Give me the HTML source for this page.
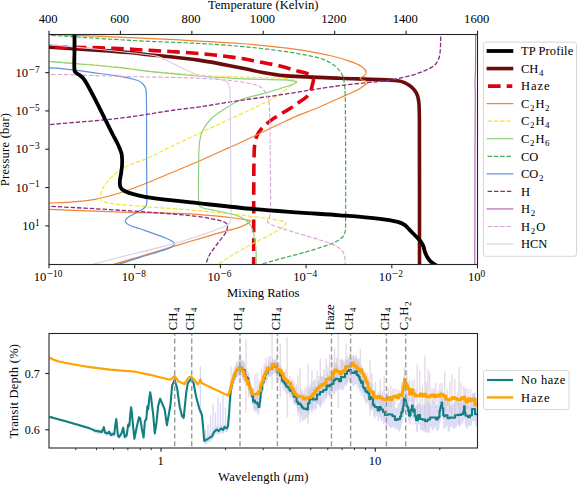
<!DOCTYPE html>
<html><head><meta charset="utf-8"><style>
html,body{margin:0;padding:0;background:#fff;}
svg{display:block;}
text{font-family:"Liberation Serif", serif;fill:#000;}
</style></head><body>
<svg width="578" height="485" viewBox="0 0 578 485">
<rect x="0" y="0" width="578" height="485" fill="#fff"/>

<defs><clipPath id="c1"><rect x="49.0" y="34.5" width="428.5" height="230.0"/></clipPath><clipPath id="c2"><rect x="49.0" y="333.5" width="428.5" height="114.5"/></clipPath></defs>
<g clip-path="url(#c1)" fill="none" stroke-linejoin="round">
<path d="M45.00,46.90 C46.33,46.97 47.67,47.02 49.00,47.10 C66.00,48.18 83.00,49.25 100.00,50.40 C109.67,51.05 119.34,51.70 129.00,52.50 C132.68,52.80 136.33,53.29 140.00,53.70 C160.00,55.93 180.08,57.61 200.00,60.40 C213.41,62.28 226.69,65.13 240.00,67.70 C247.23,69.10 254.36,70.98 261.60,72.30 C268.79,73.61 276.01,75.05 283.30,75.60 C302.15,77.02 321.10,77.42 340.00,78.20 C353.33,78.75 366.67,79.00 380.00,79.60 C385.91,79.87 391.85,80.12 397.70,80.80 C399.85,81.05 402.00,81.61 404.00,82.40 C405.94,83.17 407.80,84.28 409.50,85.50 C411.23,86.75 412.98,88.14 414.30,89.80 C415.61,91.44 416.71,93.41 417.40,95.40 C418.24,97.81 418.69,100.43 418.90,103.00 C419.36,108.63 419.38,114.33 419.40,120.00 C419.58,170.00 419.47,220.00 419.50,270.00" stroke="#6a0d0a" stroke-width="3.6"/>
<path d="M45.00,46.70 C46.33,46.73 47.67,46.77 49.00,46.80 C66.00,47.14 83.00,47.33 100.00,47.80 C109.67,48.07 119.34,48.52 129.00,49.00 C132.67,49.18 136.33,49.58 140.00,49.80 C150.00,50.41 160.00,50.87 170.00,51.50 C180.00,52.13 190.02,52.65 200.00,53.60 C213.36,54.88 226.71,56.37 240.00,58.20 C245.81,59.00 251.54,60.38 257.30,61.50 C264.54,62.91 271.83,64.11 279.00,65.80 C285.53,67.34 291.95,69.35 298.40,71.20 C302.05,72.25 306.05,72.80 309.30,74.50 C311.02,75.40 312.73,77.27 313.30,79.00 C313.80,80.51 312.84,82.48 312.50,84.20 C312.18,85.82 311.81,87.43 311.30,89.00 C310.81,90.53 310.35,92.15 309.50,93.50 C308.58,94.95 307.34,96.29 306.00,97.40 C303.51,99.46 300.68,101.15 298.00,103.00 C295.18,104.95 292.38,106.94 289.50,108.80 C286.71,110.60 283.83,112.27 281.00,114.00 C278.33,115.63 275.54,117.09 273.00,118.90 C270.14,120.93 267.32,123.08 264.80,125.50 C262.46,127.75 260.08,130.16 258.40,132.90 C256.91,135.33 255.92,138.20 255.30,141.00 C254.52,144.57 254.34,148.32 254.20,152.00 C253.84,161.32 253.86,170.67 253.80,180.00 C253.69,196.67 253.72,213.33 253.70,230.00 C253.69,243.33 253.70,256.67 253.70,270.00" stroke="#e0000e" stroke-width="3.6" stroke-dasharray="12.6,6.1" stroke-dashoffset="8.6"/>
<path d="M45.00,34.20 C46.33,34.27 47.67,34.35 49.00,34.40 C57.67,34.72 66.33,34.96 75.00,35.30 C93.33,36.02 111.67,36.79 130.00,37.60 C144.87,38.26 159.74,38.90 174.60,39.70 C196.41,40.87 218.22,41.93 240.00,43.50 C253.36,44.46 266.69,45.83 280.00,47.30 C288.69,48.26 297.38,49.36 306.00,50.80 C314.68,52.26 323.34,53.96 331.90,56.00 C337.74,57.39 343.54,59.12 349.20,61.10 C353.34,62.55 357.69,63.99 361.30,66.30 C363.36,67.62 365.64,69.99 366.20,72.00 C366.54,73.22 365.03,74.97 364.00,76.00 C362.97,77.03 360.42,77.36 360.00,78.20 C359.75,78.69 361.20,79.64 362.00,80.00 C363.93,80.87 367.61,80.91 368.20,81.90 C368.61,82.58 366.18,84.11 365.00,85.00 C362.75,86.71 360.40,88.37 357.90,89.70 C353.73,91.91 349.31,93.67 345.00,95.60 C340.01,97.83 335.00,99.99 330.00,102.20 C324.30,104.72 318.66,107.42 312.90,109.80 C308.66,111.55 304.22,112.80 300.00,114.60 C293.25,117.47 286.65,120.69 280.00,123.80 C266.65,130.05 253.37,136.48 240.00,142.70 C234.60,145.21 229.13,147.56 223.70,150.00 C215.80,153.56 207.96,157.27 200.00,160.70 C183.39,167.87 166.71,174.88 150.00,181.80 C144.48,184.08 138.91,186.25 133.30,188.30 C128.51,190.05 123.67,191.70 118.80,193.20 C114.24,194.60 109.62,195.80 105.00,197.00 C101.68,197.86 98.36,198.74 95.00,199.40 C91.69,200.04 88.35,200.54 85.00,200.90 C80.02,201.44 75.01,201.79 70.00,202.10 C63.01,202.53 56.00,202.76 49.00,203.10 C47.67,203.16 46.33,203.23 45.00,203.30" stroke="#f08533" stroke-width="1.2"/>
<path d="M45.00,209.10 C46.33,209.17 47.67,209.25 49.00,209.30 C76.00,210.35 102.99,211.54 130.00,212.40 C149.99,213.04 170.03,212.78 190.00,213.80 C203.37,214.48 216.69,216.03 230.00,217.50 C236.36,218.20 242.79,219.09 249.00,220.30 C249.62,220.42 250.76,221.13 250.50,221.50 C249.76,222.53 247.58,223.66 246.00,224.50 C244.08,225.52 242.08,226.46 240.00,227.10 C229.81,230.23 219.44,232.82 209.20,235.80 C197.64,239.16 186.13,242.65 174.60,246.10 C163.06,249.55 151.54,253.05 140.00,256.50 C131.01,259.19 122.02,261.92 113.00,264.50 C110.36,265.26 107.67,265.83 105.00,266.50" stroke="#f08533" stroke-width="1.2"/>
<path d="M45.00,61.00 C46.33,61.10 47.67,61.19 49.00,61.30 C52.67,61.59 56.33,61.89 60.00,62.20 C80.00,63.89 100.03,65.30 120.00,67.30 C129.60,68.26 139.10,70.14 148.70,71.10 C165.77,72.81 182.88,74.19 200.00,75.30 C213.32,76.16 226.66,76.52 240.00,77.00 C250.00,77.36 260.01,77.40 270.00,77.80 C276.67,78.07 283.45,78.08 290.00,79.00 C292.22,79.31 295.93,80.40 296.30,81.50 C296.60,82.40 293.48,83.89 292.00,85.00 C286.98,88.76 282.11,92.78 276.80,96.10 C271.44,99.45 265.67,102.17 260.00,105.00 C253.40,108.30 246.69,111.38 240.00,114.50 C231.69,118.38 223.32,122.14 215.00,126.00 C206.65,129.87 198.33,133.78 190.00,137.70 C181.33,141.78 172.61,145.78 164.00,150.00 C159.27,152.32 154.81,155.19 150.00,157.30 C142.65,160.52 134.75,162.61 127.50,166.00 C123.42,167.91 119.51,170.39 116.00,173.20 C112.31,176.16 108.73,179.54 105.90,183.30 C103.66,186.28 101.69,189.88 100.80,193.40 C100.23,195.65 100.03,199.23 101.50,200.60 C103.63,202.59 108.15,202.96 111.60,203.50 C118.75,204.62 126.06,204.92 133.30,205.60 C138.86,206.12 144.43,206.68 150.00,207.10 C163.33,208.11 176.69,208.73 190.00,209.90 C206.69,211.36 223.36,213.11 240.00,215.00 C250.02,216.14 260.07,217.29 270.00,219.00 C275.40,219.93 285.11,220.58 286.00,222.90 C286.77,224.91 279.04,229.52 275.00,232.00 C267.04,236.89 258.25,240.51 250.00,245.00 C243.25,248.68 236.58,252.53 230.00,256.50 C226.08,258.86 222.21,261.34 218.50,264.00 C216.87,265.17 215.50,266.67 214.00,268.00" stroke="#f5e43a" stroke-width="1.2" stroke-dasharray="4.4,1.9"/>
<path d="M45.00,61.30 C46.33,61.37 47.67,61.40 49.00,61.50 C52.67,61.77 56.33,62.09 60.00,62.40 C80.00,64.12 100.03,65.63 120.00,67.60 C126.69,68.26 133.31,69.57 140.00,70.30 C157.28,72.20 174.58,74.06 191.90,75.50 C207.91,76.83 223.95,77.83 240.00,78.60 C254.42,79.29 268.88,79.30 283.30,79.90 C286.54,80.03 289.82,80.28 293.00,80.80 C294.28,81.01 296.84,81.57 296.70,82.10 C296.51,82.81 293.63,83.84 292.00,84.50 C289.16,85.64 286.22,86.56 283.30,87.50 C277.55,89.36 271.80,91.20 266.00,92.90 C257.36,95.43 248.30,96.90 240.00,100.20 C233.97,102.60 228.45,106.40 223.00,110.00 C218.45,113.00 213.72,116.10 210.00,120.00 C206.72,123.43 203.86,127.66 202.00,132.00 C200.29,135.99 199.69,140.61 199.30,145.00 C198.56,153.27 198.72,161.66 198.60,170.00 C198.45,180.00 198.39,190.01 198.50,200.00 C198.52,201.84 198.19,204.06 199.00,205.50 C199.69,206.73 201.52,207.54 203.00,208.00 C206.85,209.20 211.01,209.63 215.00,210.50 C221.68,211.96 228.49,213.05 235.00,215.00 C238.49,216.05 242.05,217.47 245.00,219.50 C247.38,221.14 249.69,223.44 251.00,226.00 C252.85,229.61 253.65,233.93 254.50,238.00 C255.32,241.93 255.77,245.98 256.00,250.00 C256.34,255.98 256.13,262.00 256.20,268.00" stroke="#8ccf7e" stroke-width="1.2"/>
<path d="M45.00,35.00 C46.33,35.07 47.67,35.12 49.00,35.20 C79.33,37.08 109.65,39.23 140.00,40.90 C159.99,42.00 180.01,42.42 200.00,43.50 C213.35,44.22 226.69,45.09 240.00,46.30 C253.36,47.52 266.70,49.03 280.00,50.80 C288.70,51.96 297.39,53.39 306.00,55.10 C311.82,56.26 317.80,57.30 323.30,59.40 C327.60,61.04 331.88,63.41 335.40,66.30 C338.21,68.61 340.63,71.79 342.30,75.00 C343.63,77.56 343.98,80.69 344.40,83.60 C344.94,87.36 345.13,91.19 345.20,95.00 C345.53,113.33 345.54,131.67 345.60,150.00 C345.68,175.33 345.75,200.67 345.60,226.00 C345.59,228.01 345.57,230.08 345.10,232.00 C344.71,233.58 344.03,235.26 343.00,236.50 C341.67,238.10 339.80,239.38 338.00,240.50 C335.84,241.85 333.51,243.03 331.10,243.90 C323.14,246.77 315.03,249.31 306.90,251.70 C298.33,254.21 289.62,256.25 281.00,258.60 C275.79,260.02 270.60,261.52 265.40,263.00 C261.93,263.99 258.47,265.00 255.00,266.00" stroke="#3eab52" stroke-width="1.2" stroke-dasharray="4.4,1.9"/>
<path d="M45.00,67.80 C50.00,68.00 55.03,67.88 60.00,68.40 C73.36,69.78 86.68,71.72 100.00,73.50 C106.68,74.39 113.38,75.17 120.00,76.40 C125.98,77.51 132.05,78.69 137.80,80.50 C139.55,81.05 141.20,82.23 142.50,83.50 C143.76,84.73 144.94,86.34 145.50,88.00 C146.24,90.17 146.36,92.65 146.40,95.00 C146.72,113.32 146.53,131.67 146.60,150.00 C146.66,166.67 146.83,183.34 146.80,200.00 C146.80,201.67 147.11,203.54 146.50,205.00 C145.85,206.54 144.44,208.01 143.00,209.00 C139.61,211.34 135.59,212.87 132.00,215.00 C130.09,216.14 127.92,217.24 126.50,218.80 C125.79,219.57 125.17,221.17 125.60,222.00 C126.33,223.40 128.33,224.71 130.00,225.50 C133.13,226.98 136.69,227.63 140.00,228.80 C148.69,231.87 157.43,234.85 166.00,238.20 C168.26,239.08 170.49,240.19 172.50,241.50 C173.36,242.06 174.68,243.04 174.60,243.80 C174.51,244.71 173.03,245.83 172.00,246.50 C170.17,247.69 168.10,248.69 166.00,249.40 C157.43,252.32 148.65,254.67 140.00,257.40 C133.11,259.57 126.28,261.90 119.40,264.10 C116.28,265.10 113.13,266.03 110.00,267.00" stroke="#5e94d6" stroke-width="1.2"/>
<path d="M440.70,30.00 C440.70,33.33 440.76,36.67 440.70,40.00 C440.66,42.67 440.54,45.34 440.40,48.00 C440.31,49.67 440.23,51.35 440.00,53.00 C439.76,54.68 439.65,56.45 439.00,58.00 C437.98,60.42 436.90,63.17 435.00,64.90 C432.37,67.30 428.76,68.91 425.40,70.40 C420.93,72.38 416.22,73.98 411.50,75.30 C404.69,77.21 397.77,78.91 390.80,80.10 C383.94,81.27 376.94,81.65 370.00,82.40 C360.00,83.48 349.96,84.22 340.00,85.60 C319.96,88.38 300.02,91.92 280.00,94.90 C266.68,96.88 253.32,98.52 240.00,100.50 C226.65,102.49 213.36,104.86 200.00,106.80 C191.56,108.03 183.05,108.80 174.60,110.00 C156.38,112.60 138.27,116.02 120.00,118.20 C100.07,120.58 80.00,121.89 60.00,123.70 C55.00,124.15 50.00,124.57 45.00,125.00" stroke="#8b2a7e" stroke-width="1.3" stroke-dasharray="4.5,1.9"/>
<path d="M45.00,206.00 C46.33,206.07 47.67,206.12 49.00,206.20 C76.00,207.76 103.02,209.10 130.00,210.90 C150.02,212.23 170.05,213.58 190.00,215.60 C198.39,216.45 206.81,217.64 215.00,219.50 C219.15,220.44 224.75,221.44 227.00,224.00 C228.42,225.61 227.12,229.64 226.00,232.00 C224.12,235.98 220.67,239.33 218.00,243.00 C215.33,246.67 212.25,250.10 210.00,254.00 C208.12,257.27 207.09,261.01 205.60,264.50 C205.09,265.68 204.53,266.83 204.00,268.00" stroke="#8b2a7e" stroke-width="1.3" stroke-dasharray="4.5,1.9"/>
<path d="M475.60,30.00 C475.57,43.33 475.65,56.67 475.50,70.00 C475.45,74.00 475.03,78.00 475.00,82.00 C474.97,86.33 475.30,90.67 475.30,95.00 C475.30,113.33 475.05,131.67 475.00,150.00 C474.89,190.00 474.87,230.00 474.80,270.00" stroke="#b26bb5" stroke-width="1.2"/>
<path d="M45.00,74.80 C50.00,74.70 55.00,74.39 60.00,74.50 C80.00,74.93 100.00,75.86 120.00,76.40 C146.66,77.12 173.36,77.10 200.00,78.30 C213.36,78.90 226.77,80.00 240.00,81.80 C246.60,82.70 253.67,83.72 259.50,86.40 C262.51,87.78 264.96,91.04 266.50,94.00 C268.19,97.24 268.95,101.25 269.20,105.00 C270.19,119.91 270.02,135.00 270.20,150.00 C270.45,170.66 270.71,191.36 270.50,212.00 C270.48,213.86 270.05,215.74 269.50,217.50 C269.05,218.94 266.87,220.63 267.50,221.60 C268.70,223.46 272.30,224.97 275.00,226.00 C283.14,229.10 291.64,231.41 300.00,234.00 C308.31,236.58 316.77,238.72 325.00,241.50 C329.10,242.89 333.46,244.17 337.00,246.50 C339.79,248.34 342.74,251.01 344.00,254.00 C345.48,257.51 344.80,262.00 345.20,266.00" stroke="#d7a6d6" stroke-width="1.1" stroke-dasharray="4.4,1.9"/>
<path d="M45.00,43.50 C46.33,43.80 47.64,44.25 49.00,44.40 C65.98,46.25 83.01,47.74 100.00,49.50 C113.34,50.88 126.69,52.20 140.00,53.80 C145.79,54.50 151.77,54.74 157.30,56.40 C163.30,58.20 168.88,61.50 174.60,64.20 C179.25,66.40 183.69,69.04 188.40,71.10 C192.93,73.08 197.54,75.04 202.30,76.30 C207.37,77.64 212.76,77.79 217.90,78.90 C220.82,79.53 224.19,79.94 226.50,81.50 C228.03,82.54 228.89,84.83 229.40,86.70 C230.12,89.33 230.15,92.22 230.20,95.00 C230.55,113.32 230.47,131.67 230.60,150.00 C230.74,170.00 230.82,190.00 231.00,210.00 C231.02,212.17 231.30,214.34 231.20,216.50 C231.13,218.01 231.09,219.65 230.50,221.00 C229.85,222.48 228.87,224.15 227.50,225.00 C224.70,226.75 221.17,227.54 218.00,228.80 C215.07,229.97 212.19,231.29 209.20,232.30 C197.72,236.19 186.24,240.15 174.60,243.50 C163.18,246.78 151.53,249.30 140.00,252.20 C131.67,254.30 123.32,256.37 115.00,258.50 C107.32,260.47 99.66,262.46 92.00,264.50 C89.66,265.13 87.33,265.83 85.00,266.50" stroke="#d9cdea" stroke-width="1.1"/>
<path d="M74.50,30.00 C74.50,36.67 74.50,43.33 74.50,50.00 C74.50,56.83 73.93,63.86 74.50,70.50 C74.59,71.59 75.70,72.44 76.50,73.20 C77.20,73.87 78.21,74.21 79.00,74.80 C80.44,75.88 82.08,76.82 83.20,78.20 C85.04,80.46 86.46,83.12 87.90,85.70 C91.13,91.49 94.18,97.39 97.20,103.30 C100.35,109.46 103.31,115.71 106.40,121.90 C108.58,126.28 110.76,130.65 113.00,135.00 C114.13,137.19 115.40,139.30 116.50,141.50 C117.57,143.63 118.61,145.79 119.50,148.00 C120.34,150.09 121.35,152.19 121.70,154.40 C122.22,157.69 122.21,161.14 122.10,164.50 C122.01,167.41 121.48,170.31 121.10,173.20 C120.72,176.07 119.90,178.93 119.80,181.80 C119.73,183.67 119.78,185.83 120.60,187.40 C121.38,188.90 123.04,190.18 124.60,191.00 C127.27,192.41 130.33,193.32 133.30,194.10 C138.80,195.55 144.37,196.91 150.00,197.70 C166.60,200.01 183.33,201.57 200.00,203.40 C218.33,205.41 236.64,207.51 255.00,209.20 C269.98,210.58 285.00,211.52 300.00,212.60 C313.33,213.56 326.68,214.27 340.00,215.30 C353.34,216.33 366.71,217.28 380.00,218.80 C385.95,219.48 391.92,220.47 397.70,221.90 C400.12,222.50 402.57,223.51 404.60,224.90 C406.70,226.34 408.27,228.56 410.10,230.40 C412.41,232.73 414.71,235.06 417.00,237.40 C418.17,238.59 419.52,239.66 420.50,241.00 C421.62,242.53 422.58,244.24 423.30,246.00 C424.08,247.91 424.31,250.05 425.00,252.00 C425.61,253.71 426.31,255.43 427.20,257.00 C427.97,258.36 428.91,259.68 430.00,260.80 C431.08,261.91 432.43,262.79 433.70,263.70 C435.09,264.69 436.57,265.57 438.00,266.50" stroke="#000000" stroke-width="3.8"/>
</g>
<rect x="49.0" y="34.5" width="428.5" height="230.0" fill="none" stroke="#262626" stroke-width="1.1"/>
<line x1="49.00" y1="264.5" x2="49.00" y2="268.3" stroke="#262626" stroke-width="1.1"/>
<text x="48.10" y="280.8" font-size="12.6" text-anchor="middle">10<tspan dy="-4.1" font-size="9.4"><tspan font-size="11.2" dx="0.3">−</tspan><tspan dx="0.2">10</tspan></tspan></text>
<line x1="134.70" y1="264.5" x2="134.70" y2="268.3" stroke="#262626" stroke-width="1.1"/>
<text x="133.80" y="280.8" font-size="12.6" text-anchor="middle">10<tspan dy="-4.1" font-size="9.4"><tspan font-size="11.2" dx="0.3">−</tspan><tspan dx="0.2">8</tspan></tspan></text>
<line x1="220.40" y1="264.5" x2="220.40" y2="268.3" stroke="#262626" stroke-width="1.1"/>
<text x="219.50" y="280.8" font-size="12.6" text-anchor="middle">10<tspan dy="-4.1" font-size="9.4"><tspan font-size="11.2" dx="0.3">−</tspan><tspan dx="0.2">6</tspan></tspan></text>
<line x1="306.10" y1="264.5" x2="306.10" y2="268.3" stroke="#262626" stroke-width="1.1"/>
<text x="305.20" y="280.8" font-size="12.6" text-anchor="middle">10<tspan dy="-4.1" font-size="9.4"><tspan font-size="11.2" dx="0.3">−</tspan><tspan dx="0.2">4</tspan></tspan></text>
<line x1="391.80" y1="264.5" x2="391.80" y2="268.3" stroke="#262626" stroke-width="1.1"/>
<text x="390.90" y="280.8" font-size="12.6" text-anchor="middle">10<tspan dy="-4.1" font-size="9.4"><tspan font-size="11.2" dx="0.3">−</tspan><tspan dx="0.2">2</tspan></tspan></text>
<line x1="477.50" y1="264.5" x2="477.50" y2="268.3" stroke="#262626" stroke-width="1.1"/>
<text x="476.60" y="280.8" font-size="12.6" text-anchor="middle">10<tspan dy="-4.1" font-size="9.4">0</tspan></text>
<line x1="49.00" y1="34.5" x2="49.00" y2="30.7" stroke="#262626" stroke-width="1.1"/>
<text x="49.00" y="22.8" font-size="12.6" text-anchor="middle" dx="-0.8">400</text>
<line x1="120.42" y1="34.5" x2="120.42" y2="30.7" stroke="#262626" stroke-width="1.1"/>
<text x="120.42" y="22.8" font-size="12.6" text-anchor="middle" dx="-0.8">600</text>
<line x1="191.83" y1="34.5" x2="191.83" y2="30.7" stroke="#262626" stroke-width="1.1"/>
<text x="191.83" y="22.8" font-size="12.6" text-anchor="middle" dx="-0.8">800</text>
<line x1="263.25" y1="34.5" x2="263.25" y2="30.7" stroke="#262626" stroke-width="1.1"/>
<text x="263.25" y="22.8" font-size="12.6" text-anchor="middle" dx="-0.8">1000</text>
<line x1="334.67" y1="34.5" x2="334.67" y2="30.7" stroke="#262626" stroke-width="1.1"/>
<text x="334.67" y="22.8" font-size="12.6" text-anchor="middle" dx="-0.8">1200</text>
<line x1="406.08" y1="34.5" x2="406.08" y2="30.7" stroke="#262626" stroke-width="1.1"/>
<text x="406.08" y="22.8" font-size="12.6" text-anchor="middle" dx="-0.8">1400</text>
<line x1="477.50" y1="34.5" x2="477.50" y2="30.7" stroke="#262626" stroke-width="1.1"/>
<text x="477.50" y="22.8" font-size="12.6" text-anchor="middle" dx="-0.8">1600</text>
<line x1="49.0" y1="72.62" x2="45.2" y2="72.62" stroke="#262626" stroke-width="1.1"/>
<text x="39.60" y="76.62" font-size="12.6" text-anchor="end">10<tspan dy="-4.1" font-size="9.4"><tspan font-size="11.2" dx="0.3">−</tspan><tspan dx="0.2">7</tspan></tspan></text>
<line x1="49.0" y1="110.93" x2="45.2" y2="110.93" stroke="#262626" stroke-width="1.1"/>
<text x="39.60" y="114.93" font-size="12.6" text-anchor="end">10<tspan dy="-4.1" font-size="9.4"><tspan font-size="11.2" dx="0.3">−</tspan><tspan dx="0.2">5</tspan></tspan></text>
<line x1="49.0" y1="149.25" x2="45.2" y2="149.25" stroke="#262626" stroke-width="1.1"/>
<text x="39.60" y="153.25" font-size="12.6" text-anchor="end">10<tspan dy="-4.1" font-size="9.4"><tspan font-size="11.2" dx="0.3">−</tspan><tspan dx="0.2">3</tspan></tspan></text>
<line x1="49.0" y1="187.57" x2="45.2" y2="187.57" stroke="#262626" stroke-width="1.1"/>
<text x="39.60" y="191.57" font-size="12.6" text-anchor="end">10<tspan dy="-4.1" font-size="9.4"><tspan font-size="11.2" dx="0.3">−</tspan><tspan dx="0.2">1</tspan></tspan></text>
<line x1="49.0" y1="225.88" x2="45.2" y2="225.88" stroke="#262626" stroke-width="1.1"/>
<text x="39.60" y="229.88" font-size="12.6" text-anchor="end">10<tspan dy="-4.1" font-size="9.4">1</tspan></text>
<text x="263.3" y="9" font-size="12.6" text-anchor="middle" textLength="110.5">Temperature (Kelvin)</text>
<text x="263.2" y="296.7" font-size="12.6" text-anchor="middle" textLength="72.3">Mixing Ratios</text>
<text transform="translate(9.2,149.6) rotate(-90)" font-size="12.5" text-anchor="middle" textLength="73.2">Pressure (bar)</text>
<rect x="483.4" y="42.1" width="93.20000000000005" height="214.20000000000002" rx="2.5" fill="#fff" fill-opacity="0.8" stroke="#d6d6d6" stroke-width="1"/>
<line x1="486.6" y1="51.00" x2="513.3" y2="51.00" stroke="#000000" stroke-width="3.8"/>
<text x="521" y="55.20" font-size="12.5" textLength="52.2" >TP Profile</text>
<line x1="486.6" y1="68.55" x2="513.3" y2="68.55" stroke="#6a0d0a" stroke-width="3.6"/>
<text x="521" y="72.75" font-size="12.5" >CH<tspan font-size="9" dy="2.8" dx="0.6">4</tspan></text>
<line x1="488.0" y1="86.10" x2="512.3" y2="86.10" stroke="#e0000e" stroke-width="3.6" stroke-dasharray="12.6,6.1"/>
<text x="521" y="90.30" font-size="12.5" textLength="28.6" >Haze</text>
<line x1="486.6" y1="103.65" x2="513.3" y2="103.65" stroke="#f08533" stroke-width="1.2"/>
<text x="521" y="107.85" font-size="12.5" >C<tspan font-size="9" dy="2.8" dx="0.6">2</tspan><tspan dy="-2.8" dx="1.0">H</tspan><tspan font-size="9" dy="2.8" dx="0.6">2</tspan></text>
<line x1="487.6" y1="121.20" x2="512.3" y2="121.20" stroke="#f5e43a" stroke-width="1.2" stroke-dasharray="4.4,1.9"/>
<text x="521" y="125.40" font-size="12.5" >C<tspan font-size="9" dy="2.8" dx="0.6">2</tspan><tspan dy="-2.8" dx="1.0">H</tspan><tspan font-size="9" dy="2.8" dx="0.6">4</tspan></text>
<line x1="486.6" y1="138.75" x2="513.3" y2="138.75" stroke="#8ccf7e" stroke-width="1.2"/>
<text x="521" y="142.95" font-size="12.5" >C<tspan font-size="9" dy="2.8" dx="0.6">2</tspan><tspan dy="-2.8" dx="1.0">H</tspan><tspan font-size="9" dy="2.8" dx="0.6">6</tspan></text>
<line x1="487.6" y1="156.30" x2="512.3" y2="156.30" stroke="#3eab52" stroke-width="1.2" stroke-dasharray="4.4,1.9"/>
<text x="521" y="160.50" font-size="12.5" >CO</text>
<line x1="486.6" y1="173.85" x2="513.3" y2="173.85" stroke="#5e94d6" stroke-width="1.2"/>
<text x="521" y="178.05" font-size="12.5" >CO<tspan font-size="9" dy="2.8" dx="0.6">2</tspan></text>
<line x1="487.6" y1="191.40" x2="512.3" y2="191.40" stroke="#8b2a7e" stroke-width="1.3" stroke-dasharray="4.5,1.9"/>
<text x="521" y="195.60" font-size="12.5" >H</text>
<line x1="486.6" y1="208.95" x2="513.3" y2="208.95" stroke="#b26bb5" stroke-width="1.2"/>
<text x="521" y="213.15" font-size="12.5" >H<tspan font-size="9" dy="2.8" dx="0.6">2</tspan></text>
<line x1="487.6" y1="226.50" x2="512.3" y2="226.50" stroke="#d7a6d6" stroke-width="1.1" stroke-dasharray="4.4,1.9"/>
<text x="521" y="230.70" font-size="12.5" >H<tspan font-size="9" dy="2.8" dx="0.6">2</tspan><tspan dy="-2.8" dx="1.0">O</tspan></text>
<line x1="486.6" y1="244.05" x2="513.3" y2="244.05" stroke="#d9cdea" stroke-width="1.1"/>
<text x="521" y="248.25" font-size="12.5" >HCN</text>
<g clip-path="url(#c2)" fill="none" stroke-linejoin="round">
<path d="M49.50,415.60 L51.55,416.17 L53.60,416.74 L55.65,417.31 L57.70,417.88 L59.75,418.45 L61.80,419.02 L63.85,419.59 L65.90,420.16 L67.95,420.73 L70.00,421.30 L72.00,421.89 L74.00,422.48 L76.00,423.07 L78.00,423.66 L80.00,424.25 L82.00,424.84 L84.00,425.43 L86.00,426.02 L88.00,426.61 L90.00,427.20 L92.50,428.40 L95.00,428.30 L98.70,428.90 L101.80,429.50 L102.85,427.05 L103.90,424.60 L104.40,427.35 L104.90,430.10 L107.40,431.00 L109.20,429.30 L110.80,432.60 L112.30,431.40 L114.20,432.00 L114.47,429.62 L114.75,427.25 L115.03,424.88 L115.30,422.50 L115.63,420.50 L115.97,418.50 L116.30,416.50 L116.53,418.75 L116.75,421.00 L116.97,423.25 L117.20,425.50 L117.43,428.07 L117.67,430.63 L117.90,433.20 L119.10,434.50 L120.35,432.65 L121.60,430.80 L122.40,428.00 L123.20,425.20 L123.58,427.52 L123.95,429.85 L124.33,432.18 L124.70,434.50 L126.60,433.20 L126.92,430.98 L127.24,428.76 L127.56,426.54 L127.88,424.32 L128.20,422.10 L129.40,423.30 L129.58,420.94 L129.76,418.58 L129.94,416.22 L130.12,413.86 L130.30,411.50 L130.57,409.27 L130.83,407.03 L131.10,404.80 L131.50,407.65 L131.90,410.50 L132.10,412.77 L132.30,415.05 L132.50,417.33 L132.70,419.60 L132.91,421.69 L133.12,423.78 L133.34,425.86 L133.55,427.95 L133.76,430.04 L133.97,432.12 L134.19,434.21 L134.40,436.30 L134.82,434.20 L135.24,432.10 L135.66,430.00 L136.08,427.90 L136.50,425.80 L136.98,423.62 L137.46,421.44 L137.94,419.26 L138.42,417.08 L138.90,414.90 L140.20,415.90 L140.56,418.14 L140.92,420.38 L141.28,422.62 L141.64,424.86 L142.00,427.10 L142.40,429.08 L142.80,431.05 L143.20,433.02 L143.60,435.00 L143.76,432.94 L143.93,430.88 L144.09,428.81 L144.25,426.75 L144.41,424.69 L144.57,422.62 L144.74,420.56 L144.90,418.50 L146.30,416.90 L146.48,414.70 L146.67,412.50 L146.85,410.30 L147.03,408.10 L147.22,405.90 L147.40,403.70 L148.20,407.00 L148.42,404.70 L148.64,402.40 L148.86,400.10 L149.08,397.80 L149.30,395.50 L149.75,392.60 L150.20,389.70 L150.70,392.60 L151.20,395.50 L151.43,397.70 L151.67,399.90 L151.90,402.10 L152.22,404.55 L152.55,407.00 L152.88,409.45 L153.20,411.90 L153.38,414.01 L153.56,416.12 L153.73,418.23 L153.91,420.34 L154.09,422.46 L154.27,424.57 L154.44,426.68 L154.62,428.79 L154.80,430.90 L155.14,428.76 L155.48,426.62 L155.82,424.48 L156.16,422.34 L156.50,420.20 L156.70,418.14 L156.90,416.07 L157.10,414.01 L157.30,411.95 L157.50,409.89 L157.70,407.82 L157.90,405.76 L158.10,403.70 L158.77,401.23 L159.43,398.77 L160.10,396.30 L161.20,398.75 L162.30,401.20 L163.10,403.13 L163.90,405.07 L164.70,407.00 L165.01,409.24 L165.33,411.49 L165.64,413.73 L165.96,415.97 L166.27,418.21 L166.59,420.46 L166.90,422.70 L167.28,420.54 L167.66,418.38 L168.04,416.22 L168.42,414.06 L168.80,411.90 L169.23,409.45 L169.65,407.00 L170.07,404.55 L170.50,402.10 L170.68,399.99 L170.86,397.88 L171.03,395.77 L171.21,393.66 L171.39,391.54 L171.57,389.43 L171.74,387.32 L171.92,385.21 L172.10,383.10 L172.93,381.17 L173.77,379.23 L174.60,377.30 L175.22,379.38 L175.85,381.45 L176.47,383.53 L177.10,385.60 L177.38,387.61 L177.66,389.62 L177.93,391.63 L178.21,393.64 L178.49,395.66 L178.77,397.67 L179.04,399.68 L179.32,401.69 L179.60,403.70 L180.08,405.68 L180.56,407.66 L181.04,409.64 L181.52,411.62 L182.00,413.60 L183.70,415.20 L183.91,413.14 L184.12,411.08 L184.32,409.02 L184.53,406.97 L184.74,404.91 L184.95,402.85 L185.16,400.79 L185.37,398.73 L185.57,396.68 L185.78,394.62 L185.99,392.56 L186.20,390.50 L186.52,388.52 L186.84,386.54 L187.16,384.56 L187.48,382.58 L187.80,380.60 L189.30,378.55 L190.80,376.50 L192.20,378.55 L193.60,380.60 L194.00,382.80 L194.40,385.00 L194.80,387.20 L195.20,389.40 L195.60,391.60 L196.00,393.80 L196.55,395.87 L197.10,397.93 L197.65,400.00 L198.20,402.07 L198.75,404.13 L199.30,406.20 L200.17,406.73 L201.03,408.77 L201.90,410.80 L202.12,413.00 L202.33,415.20 L202.55,417.40 L202.77,419.60 L202.98,421.80 L203.20,424.00 L203.37,426.15 L203.53,428.30 L203.70,430.45 L203.87,432.60 L204.03,434.75 L204.20,436.90 L207.00,435.50 L210.00,433.50 L212.10,432.40 L213.05,430.20 L214.00,428.00 L216.70,425.50 L218.50,427.00 L221.20,424.40 L223.00,426.00 L224.50,423.00 L226.90,424.40 L228.00,422.10 L228.20,419.88 L228.40,417.66 L228.60,415.44 L228.80,413.22 L229.00,411.00 L229.13,408.94 L229.26,406.88 L229.39,404.82 L229.52,402.76 L229.65,400.70 L229.78,398.64 L229.91,396.58 L230.04,394.52 L230.17,392.46 L230.30,390.40 L230.64,388.32 L230.98,386.24 L231.32,384.16 L231.66,382.08 L232.00,376.50 L232.85,373.75 L233.70,371.00 L234.47,368.83 L235.23,366.67 L236.00,364.50 L237.27,362.77 L238.53,361.03 L239.80,359.30 L242.00,360.34 L243.00,361.86 L244.00,360.22 L244.00,362.54 L245.00,362.35 L245.00,366.72 L246.00,368.53 L246.00,368.77 L247.00,368.24 L247.00,368.70 L247.67,371.84 L247.67,371.53 L248.33,372.49 L248.33,374.25 L249.00,374.78 L249.00,379.79 L249.50,375.56 L249.50,376.10 L250.00,377.50 L250.00,379.63 L250.50,381.69 L250.50,382.93 L251.00,380.62 L251.00,383.52 L251.50,382.94 L251.50,386.62 L252.00,387.57 L252.00,388.73 L252.50,388.84 L252.50,386.34 L253.00,387.80 L253.00,393.02 L254.00,393.65 L254.00,392.00 L255.00,392.92 L255.00,395.73 L257.30,392.50 L257.30,394.21 L258.40,394.91 L258.40,398.13 L259.50,399.89 L259.50,396.58 L259.88,396.32 L259.88,395.76 L260.25,392.63 L260.25,390.68 L260.62,388.67 L260.62,385.46 L261.00,382.89 L261.00,382.67 L261.30,386.48 L261.30,384.42 L261.60,381.27 L261.60,379.26 L261.90,376.97 L261.90,381.94 L262.20,383.40 L262.20,375.86 L262.50,375.19 L262.50,374.37 L263.07,375.19 L263.07,375.43 L263.65,372.59 L263.65,367.81 L264.23,370.69 L264.23,372.19 L264.80,372.85 L264.80,368.46 L266.40,365.14 L266.40,366.15 L268.00,364.43 L268.00,361.54 L270.00,362.70 L270.00,360.00 L272.00,362.71 L272.00,357.85 L274.50,360.22 L274.50,359.07 L277.00,360.01 L277.00,365.06 L278.50,361.91 L278.50,361.38 L280.00,363.63 L280.00,365.85 L281.00,368.88 L281.00,367.09 L282.00,365.01 L282.00,371.92 L283.00,374.36 L283.00,371.97 L284.50,375.46 L284.50,377.04 L286.00,374.72 L286.00,379.26 L287.75,379.41 L287.75,381.66 L289.50,381.59 L289.50,382.35 L291.00,383.88 L291.00,380.91 L292.50,381.94 L292.50,385.21 L293.75,382.94 L293.75,388.90 L295.00,388.49 L295.00,385.92 L296.50,389.00 L296.50,395.38 L298.00,391.99 L298.00,394.71 L299.25,397.27 L299.25,397.05 L300.50,387.24 L300.50,387.36 L301.80,393.45 L301.80,389.33 L303.10,389.88 L303.10,393.43 L306.00,394.92 L306.00,398.49 L308.00,399.02 L308.00,385.29 L309.50,391.22 L309.50,383.53 L311.00,387.20 L311.00,380.90 L312.65,382.76 L312.65,386.89 L314.30,387.86 L314.30,383.23 L317.00,388.56 L317.00,382.37 L320.00,379.66 L320.00,374.74 L323.00,376.69 L323.00,377.73 L324.80,372.51 L324.80,377.83 L326.60,379.37 L326.60,373.01 L328.30,371.57 L328.30,375.53 L330.00,374.59 L330.00,371.54 L331.73,369.87 L331.73,372.52 L333.47,370.63 L333.47,362.71 L335.20,361.97 L335.20,363.27 L337.10,362.99 L337.10,363.99 L339.00,367.62 L339.00,370.70 L341.00,370.84 L341.00,359.36 L343.00,361.07 L343.00,359.08 L345.00,366.79 L345.00,358.40 L347.00,359.66 L347.00,354.72 L348.90,358.09 L348.90,351.32 L350.80,358.89 L350.80,357.92 L352.90,356.36 L352.90,355.33 L355.00,356.67 L355.00,355.35 L356.75,354.61 L356.75,357.22 L358.50,361.83 L358.50,361.07 L359.67,359.30 L359.67,362.70 L360.83,366.42 L360.83,366.03 L362.00,365.43 L362.00,366.52 L362.83,366.09 L362.83,373.39 L363.67,371.75 L363.67,373.20 L364.50,377.53 L364.50,372.57 L365.33,369.67 L365.33,374.18 L366.17,375.42 L366.17,377.69 L367.00,374.85 L367.00,377.26 L368.12,378.41 L368.12,376.38 L369.25,382.56 L369.25,382.87 L370.38,388.77 L370.38,381.82 L371.50,382.80 L371.50,386.30 L373.00,382.47 L373.00,390.58 L374.50,389.62 L374.50,389.00 L376.00,394.44 L376.00,396.77 L377.67,394.40 L377.67,394.69 L379.33,398.59 L379.33,395.43 L381.00,389.40 L381.00,393.91 L383.00,395.70 L383.00,394.40 L385.00,399.03 L385.00,399.23 L387.50,403.06 L387.50,400.46 L390.00,397.39 L390.00,396.70 L392.50,396.98 L392.50,402.90 L395.00,401.27 L395.00,407.06 L397.50,408.53 L397.50,404.84 L400.00,402.05 L400.00,399.28 L401.25,400.41 L401.25,394.36 L402.50,399.87 L402.50,396.90 L402.83,394.59 L402.83,398.25 L403.17,398.75 L403.17,392.53 L403.50,390.79 L403.50,391.08 L403.83,392.55 L403.83,382.07 L404.17,380.90 L404.17,384.34 L404.50,387.43 L404.50,389.53 L406.00,382.64 L406.00,392.19 L406.50,386.72 L406.50,390.70 L407.00,392.85 L407.00,389.55 L407.50,395.88 L407.50,396.21 L408.25,393.60 L408.25,400.80 L409.00,394.20 L409.00,403.41 L410.50,404.20 L410.50,399.23 L411.25,394.46 L411.25,395.31 L412.00,393.81 L412.00,390.06 L412.75,388.81 L412.75,393.27 L413.50,395.51 L413.50,397.70 L414.75,395.44 L414.75,404.41 L416.00,405.78 L416.00,406.11 L418.00,404.13 L418.00,403.45 L420.00,402.68 L420.00,405.99 L422.50,403.11 L422.50,405.11 L425.00,404.34 L425.00,404.67 L427.50,407.64 L427.50,402.78 L430.00,401.84 L430.00,406.60 L433.00,399.67 L433.00,401.28 L436.00,406.13 L436.00,405.59 L437.75,404.18 L437.75,399.64 L439.50,404.00 L439.50,395.91 L440.20,393.37 L440.20,391.31 L440.90,390.11 L440.90,391.54 L441.60,390.00 L441.60,390.75 L442.13,386.51 L442.13,390.74 L442.67,392.19 L442.67,392.24 L443.20,396.37 L443.20,397.59 L444.10,396.93 L444.10,397.94 L445.00,401.54 L445.00,398.55 L447.50,402.41 L447.50,400.54 L450.00,400.98 L450.00,404.36 L452.50,406.53 L452.50,403.86 L455.00,402.97 L455.00,398.79 L457.50,401.09 L457.50,404.43 L460.00,398.04 L460.00,404.15 L461.25,398.12 L461.25,402.52 L462.50,401.19 L462.50,397.57 L463.25,402.87 L463.25,399.84 L464.00,396.83 L464.00,390.12 L464.75,389.17 L464.75,396.63 L465.50,394.53 L465.50,401.46 L468.00,397.72 L468.00,406.20 L470.00,405.09 L470.00,400.69 L472.00,402.62 L472.00,392.85 L475.00,393.59 L475.00,399.76 L478.50,397.14 L478.50,400.18 L478.5,426.4 L478.5,427.5 L475.0,425.5 L475.0,421.0 L472.0,421.5 L472.0,424.9 L470.0,426.4 L470.0,426.4 L468.0,425.6 L468.0,429.6 L465.5,426.7 L465.5,426.3 L464.8,424.7 L464.8,419.5 L464.0,418.7 L464.0,422.4 L463.2,420.1 L463.2,423.0 L462.5,427.1 L462.5,424.2 L461.2,423.1 L461.2,427.8 L460.0,423.2 L460.0,427.9 L457.5,423.0 L457.5,426.3 L455.0,428.0 L455.0,429.1 L452.5,428.4 L452.5,425.8 L450.0,427.5 L450.0,431.5 L447.5,431.8 L447.5,425.2 L445.0,428.1 L445.0,427.4 L444.1,430.2 L444.1,429.2 L443.2,428.7 L443.2,417.6 L442.7,420.7 L442.7,419.6 L442.1,420.7 L442.1,415.1 L441.6,411.8 L441.6,417.6 L440.9,416.4 L440.9,421.9 L440.2,421.0 L440.2,424.2 L439.5,422.3 L439.5,427.6 L437.8,430.9 L437.8,431.4 L436.0,430.3 L436.0,426.1 L433.0,429.9 L433.0,431.3 L430.0,426.0 L430.0,433.1 L427.5,432.4 L427.5,431.5 L425.0,433.7 L425.0,431.4 L422.5,430.8 L422.5,431.3 L420.0,429.1 L420.0,424.7 L418.0,424.2 L418.0,432.6 L416.0,431.1 L416.0,424.1 L414.8,425.1 L414.8,420.4 L413.5,418.7 L413.5,423.5 L412.8,425.3 L412.8,418.6 L412.0,417.7 L412.0,421.0 L411.2,419.9 L411.2,421.7 L410.5,418.0 L410.5,424.4 L409.0,425.0 L409.0,424.3 L408.2,419.3 L408.2,418.3 L407.5,416.3 L407.5,414.3 L407.0,419.1 L407.0,415.4 L406.5,417.1 L406.5,415.1 L406.0,410.9 L406.0,413.4 L404.5,408.1 L404.5,406.6 L404.2,409.0 L404.2,413.2 L403.8,412.3 L403.8,415.2 L403.5,416.4 L403.5,418.0 L403.2,416.6 L403.2,420.0 L402.8,420.4 L402.8,419.2 L402.5,417.5 L402.5,422.0 L401.2,426.2 L401.2,428.8 L400.0,429.7 L400.0,432.3 L397.5,430.1 L397.5,428.6 L395.0,429.8 L395.0,427.8 L392.5,426.6 L392.5,427.8 L390.0,428.1 L390.0,427.2 L387.5,424.8 L387.5,424.0 L385.0,427.0 L385.0,421.9 L383.0,425.4 L383.0,420.2 L381.0,421.6 L381.0,420.6 L379.3,416.0 L379.3,419.6 L377.7,422.6 L377.7,416.9 L376.0,415.0 L376.0,416.3 L374.5,420.4 L374.5,416.6 L373.0,415.9 L373.0,410.7 L371.5,407.8 L371.5,407.9 L370.4,408.6 L370.4,407.3 L369.2,411.9 L369.2,401.9 L368.1,406.6 L368.1,402.9 L367.0,403.8 L367.0,403.6 L366.2,401.4 L366.2,404.1 L365.3,405.0 L365.3,402.2 L364.5,399.9 L364.5,396.8 L363.7,400.1 L363.7,398.3 L362.8,397.0 L362.8,393.3 L362.0,392.9 L362.0,396.1 L360.8,395.6 L360.8,390.6 L359.7,393.4 L359.7,390.5 L358.5,389.1 L358.5,385.0 L356.8,388.6 L356.8,384.2 L355.0,383.7 L355.0,385.5 L352.9,386.5 L352.9,385.1 L350.8,383.9 L350.8,378.1 L348.9,383.9 L348.9,380.8 L347.0,383.4 L347.0,384.8 L345.0,385.7 L345.0,385.2 L343.0,391.1 L343.0,389.3 L341.0,390.7 L341.0,389.2 L339.0,389.3 L339.0,387.8 L337.1,390.6 L337.1,391.1 L335.2,390.9 L335.2,394.3 L333.5,393.7 L333.5,394.0 L331.7,392.5 L331.7,396.3 L330.0,395.0 L330.0,395.3 L328.3,394.5 L328.3,396.1 L326.6,395.0 L326.6,397.7 L324.8,398.9 L324.8,403.9 L323.0,399.9 L323.0,403.7 L320.0,405.2 L320.0,405.9 L317.0,403.8 L317.0,407.7 L314.3,411.8 L314.3,408.5 L312.6,409.3 L312.6,409.5 L311.0,410.9 L311.0,409.0 L309.5,411.9 L309.5,412.8 L308.0,417.4 L308.0,417.7 L306.0,418.1 L306.0,419.1 L303.1,420.3 L303.1,420.8 L301.8,421.2 L301.8,414.4 L300.5,419.1 L300.5,416.1 L299.2,410.0 L299.2,410.8 L298.0,413.3 L298.0,411.4 L296.5,408.0 L296.5,401.9 L295.0,405.0 L295.0,404.9 L293.8,404.5 L293.8,402.8 L292.5,400.5 L292.5,396.5 L291.0,397.6 L291.0,397.3 L289.5,398.8 L289.5,393.7 L287.8,393.6 L287.8,393.3 L286.0,393.5 L286.0,392.9 L284.5,390.6 L284.5,388.6 L283.0,392.1 L283.0,386.5 L282.0,389.0 L282.0,384.0 L281.0,381.9 L281.0,382.0 L280.0,385.1 L280.0,377.6 L278.5,379.9 L278.5,381.9 L277.0,378.7 L277.0,373.2 L274.5,374.1 L274.5,372.5 L272.0,374.9 L272.0,375.1 L270.0,377.8 L270.0,375.7 L268.0,376.8 L268.0,380.7 L266.4,379.0 L266.4,383.6 L264.8,380.3 L264.8,385.0 L264.2,385.7 L264.2,383.0 L263.6,385.9 L263.6,392.5 L263.1,389.7 L263.1,387.2 L262.5,388.0 L262.5,393.4 L262.2,392.8 L262.2,395.3 L261.9,396.8 L261.9,397.0 L261.6,394.7 L261.6,400.7 L261.3,397.6 L261.3,397.7 L261.0,401.5 L261.0,402.8 L260.6,400.2 L260.6,407.5 L260.2,405.5 L260.2,410.8 L259.9,407.6 L259.9,410.2 L259.5,409.9 L259.5,414.0 L258.4,415.7 L258.4,413.7 L257.3,414.4 L257.3,412.7 L255.0,409.5 L255.0,408.3 L254.0,409.2 L254.0,409.4 L253.0,410.0 L253.0,403.7 L252.5,405.2 L252.5,404.1 L252.0,404.2 L252.0,399.1 L251.5,400.0 L251.5,395.9 L251.0,395.3 L251.0,396.6 L250.5,394.3 L250.5,394.4 L250.0,396.4 L250.0,394.6 L249.5,396.0 L249.5,395.6 L249.0,391.4 L249.0,392.3 L248.3,392.8 L248.3,384.6 L247.7,385.5 L247.7,383.9 L247.0,387.1 L247.0,385.2 L246.0,384.6 L246.0,381.4 L245.0,383.3 L245.0,378.2 L244.0,378.0 L244.0,379.8 L243.0,378.1 L242.0,375.7 L239.8,374.3 L238.5,376.0 L237.3,377.8 L236.0,379.5 L235.2,381.7 L234.5,383.8 L233.7,386.0 L232.8,388.8 L232.0,391.5 L231.7,390.1 L231.3,392.2 L231.0,394.2 L230.6,396.3 L230.3,398.4 L230.2,400.5 L230.0,402.5 L229.9,404.6 L229.8,406.6 L229.7,408.7 L229.5,410.8 L229.4,412.8 L229.3,414.9 L229.1,416.9 L229.0,419.0 L228.8,421.2 L228.6,423.4 L228.4,425.7 L228.2,427.9 L228.0,430.1 L226.9,432.4 L224.5,431.0 L223.0,434.0 L221.2,432.4 L218.5,435.0 L216.7,433.5 L214.0,436.0 L213.1,438.2 L212.1,440.4 L210.0,441.5 L207.0,443.5 L204.2,444.9 L204.0,442.8 L203.9,440.6 L203.7,438.4 L203.5,436.3 L203.4,434.1 L203.2,432.0 L203.0,429.8 L202.8,427.6 L202.6,425.4 L202.3,423.2 L202.1,421.0 L201.9,418.8 L201.0,416.8 L200.2,414.7 L199.3,411.2 L198.8,409.1 L198.2,407.1 L197.7,405.0 L197.1,402.9 L196.6,400.9 L196.0,398.8 L195.6,396.6 L195.2,394.4 L194.8,392.2 L194.4,390.0 L194.0,387.8 L193.6,385.6 L192.2,383.6 L190.8,381.5 L189.3,383.6 L187.8,385.6 L187.5,387.6 L187.2,389.6 L186.8,391.5 L186.5,393.5 L186.2,395.5 L186.0,397.6 L185.8,399.6 L185.6,401.7 L185.4,403.7 L185.2,405.8 L184.9,407.9 L184.7,409.9 L184.5,412.0 L184.3,414.0 L184.1,416.1 L183.9,418.1 L183.7,420.2 L182.0,418.6 L181.5,416.6 L181.0,414.6 L180.6,412.7 L180.1,410.7 L179.6,408.7 L179.3,406.7 L179.0,404.7 L178.8,402.7 L178.5,400.7 L178.2,398.6 L177.9,396.6 L177.7,394.6 L177.4,392.6 L177.1,390.6 L176.5,388.5 L175.8,386.5 L175.2,384.4 L174.6,382.3 L173.8,384.2 L172.9,386.2 L172.1,388.1 L171.9,390.2 L171.7,392.3 L171.6,394.4 L171.4,396.5 L171.2,398.7 L171.0,400.8 L170.9,402.9 L170.7,405.0 L170.5,407.1 L170.1,409.6 L169.7,412.0 L169.2,414.4 L168.8,416.9 L168.4,419.1 L168.0,421.2 L167.7,423.4 L167.3,425.5 L166.9,427.7 L166.6,425.5 L166.3,423.2 L166.0,421.0 L165.6,418.7 L165.3,416.5 L165.0,414.2 L164.7,412.0 L163.9,410.1 L163.1,408.1 L162.3,406.2 L161.2,403.8 L160.1,401.3 L159.4,403.8 L158.8,406.2 L158.1,408.7 L157.9,410.8 L157.7,412.8 L157.5,414.9 L157.3,416.9 L157.1,419.0 L156.9,421.1 L156.7,423.1 L156.5,425.2 L156.2,427.3 L155.8,429.5 L155.5,431.6 L155.1,433.8 L154.8,435.9 L154.6,433.8 L154.4,431.7 L154.3,429.6 L154.1,427.5 L153.9,425.3 L153.7,423.2 L153.6,421.1 L153.4,419.0 L153.2,416.9 L152.9,414.4 L152.6,412.0 L152.2,409.6 L151.9,407.1 L151.7,404.9 L151.4,402.7 L151.2,400.5 L150.7,397.6 L150.2,394.7 L149.8,397.6 L149.3,400.5 L149.1,402.8 L148.9,405.1 L148.6,407.4 L148.4,409.7 L148.2,412.0 L147.4,408.7 L147.2,410.9 L147.0,413.1 L146.9,415.3 L146.7,417.5 L146.5,419.7 L146.3,421.9 L144.9,423.5 L144.7,425.6 L144.6,427.6 L144.4,429.7 L144.2,431.8 L144.1,433.8 L143.9,435.9 L143.8,437.9 L143.6,440.0 L143.2,438.0 L142.8,436.1 L142.4,434.1 L142.0,432.1 L141.6,429.9 L141.3,427.6 L140.9,425.4 L140.6,423.1 L140.2,420.9 L138.9,419.9 L138.4,422.1 L137.9,424.3 L137.5,426.4 L137.0,428.6 L136.5,430.8 L136.1,432.9 L135.7,435.0 L135.2,437.1 L134.8,439.2 L134.4,441.3 L134.2,439.2 L134.0,437.1 L133.8,435.0 L133.6,433.0 L133.3,430.9 L133.1,428.8 L132.9,426.7 L132.7,424.6 L132.5,422.3 L132.3,420.1 L132.1,417.8 L131.9,415.5 L131.5,412.6 L131.1,409.8 L130.8,412.0 L130.6,414.3 L130.3,416.5 L130.1,418.9 L129.9,421.2 L129.8,423.6 L129.6,425.9 L129.4,428.3 L128.2,427.1 L127.9,429.3 L127.6,431.5 L127.2,433.8 L126.9,436.0 L126.6,438.2 L124.7,439.5 L124.3,437.2 L124.0,434.9 L123.6,432.5 L123.2,430.2 L122.4,433.0 L121.6,435.8 L120.3,437.6 L119.1,439.5 L117.9,438.2 L117.7,435.6 L117.4,433.1 L117.2,430.5 L117.0,428.2 L116.8,426.0 L116.5,423.8 L116.3,421.5 L116.0,423.5 L115.6,425.5 L115.3,427.5 L115.0,429.9 L114.8,432.2 L114.5,434.6 L114.2,437.0 L112.3,436.4 L110.8,437.6 L109.2,434.3 L107.4,436.0 L104.9,435.1 L104.4,432.4 L103.9,429.6 L102.8,432.1 L101.8,434.5 L98.7,433.9 L95.0,433.3 L92.5,430.8 L90.0,429.6 L88.0,429.0 L86.0,428.4 L84.0,427.8 L82.0,427.2 L80.0,426.6 L78.0,426.1 L76.0,425.5 L74.0,424.9 L72.0,424.3 L70.0,423.7 L68.0,423.1 L65.9,422.6 L63.9,422.0 L61.8,421.4 L59.8,420.8 L57.7,420.3 L55.6,419.7 L53.6,419.1 L51.5,418.6 L49.5,418.0 Z" fill="#dcdcf6" stroke="none"/>
<path d="M205.5,443.2 V430.2 M208.0,441.8 V424.8 M210.5,440.2 V415.2 M213.0,437.3 V404.3 M215.5,433.6 V412.6 M218.0,433.6 V397.6 M220.5,432.1 V403.1 M223.0,433.0 V395.0 M225.5,430.6 V407.6 M227.5,430.1 V415.1 M200.4,414.3 V366.3" stroke="#d8d8f4" stroke-width="1.3"/>
<path d="M231.0,402.3 V366.4 M233.2,382.7 V372.7 M234.7,379.9 V366.7 M236.4,378.2 V361.5 M239.0,376.7 V357.4 M240.6,377.6 V354.5 M242.7,380.3 V360.5 M244.2,383.3 V364.8 M246.0,412.3 V338.9 M248.6,397.0 V373.0 M250.6,397.8 V381.6 M253.3,398.6 V388.0 M254.9,411.7 V373.9 M257.2,409.4 V373.1 M259.1,398.7 V380.3 M261.7,393.0 V368.9 M264.3,383.6 V363.7 M266.0,382.5 V357.8 M268.6,377.2 V356.6 M270.3,374.4 V356.1 M272.1,389.8 V333.4 M274.6,371.7 V360.3 M276.5,378.7 V355.6 M277.9,374.5 V364.8 M280.3,397.1 V343.7 M282.4,382.2 V368.2 M283.9,382.0 V372.5 M285.6,388.3 V369.4 M287.2,417.4 V337.5 M289.9,392.5 V376.1 M292.0,397.3 V378.7 M294.2,404.5 V380.3 M296.3,405.2 V384.5 M298.0,415.4 V375.2 M300.2,422.5 V368.0 M302.5,403.5 V393.5 M304.8,407.7 V387.7 M306.6,407.5 V386.5 M308.1,424.4 V363.7 M310.1,402.3 V388.1 M312.0,412.8 V370.5 M313.8,401.7 V380.2 M315.3,400.1 V379.2 M317.1,403.2 V371.2 M318.8,396.3 V376.0 M320.3,407.6 V358.4 M322.3,389.0 V377.3 M324.2,392.4 V369.0 M326.2,398.4 V357.9 M327.9,389.1 V366.5 M329.6,397.5 V353.9 M332.1,390.5 V356.9 M334.6,385.6 V348.4 M336.6,381.7 V357.8 M338.2,407.7 V327.1 M340.2,383.3 V359.3 M341.9,381.0 V358.5 M344.3,374.9 V361.2 M346.1,385.8 V343.6 M347.9,369.4 V359.7 M350.6,374.4 V350.5 M353.3,373.2 V354.8 M354.7,371.0 V359.2 M356.5,374.7 V357.2 M358.5,377.1 V358.2 M360.4,387.9 V349.0 M362.8,380.4 V368.2 M365.0,384.6 V372.9 M367.5,395.2 V373.1 M370.1,415.6 V360.2 M371.8,410.6 V373.2 M373.9,399.7 V390.7 M375.4,409.0 V381.8 M378.1,402.5 V392.1 M380.2,414.2 V378.9 M382.5,405.3 V390.4 M384.2,417.1 V375.9 M386.6,403.1 V392.8 M388.3,406.6 V387.8 M390.8,407.6 V385.6 M393.0,404.1 V389.0 M395.1,404.0 V388.2 M397.5,402.1 V389.2 M399.7,400.3 V390.1 M401.6,405.5 V382.2 M404.4,390.9 V367.3 M406.9,398.5 V369.7 M409.4,402.7 V379.4 M411.9,401.4 V380.5 M414.1,404.7 V379.4 M415.7,398.6 V388.9 M417.2,419.1 V364.5 M419.8,415.6 V371.0 M422.4,404.1 V385.8 M424.9,428.7 V355.4 M426.4,407.0 V382.8 M427.9,418.2 V369.1 M429.7,415.6 V372.6 M432.1,403.3 V388.3 M434.1,403.8 V388.0 M435.6,407.9 V383.1 M437.6,402.1 V390.5 M439.9,403.4 V383.5 M442.1,402.5 V383.1 M444.7,418.6 V371.8 M447.4,405.6 V389.4 M449.8,412.7 V381.8 M452.0,419.3 V374.2 M454.8,416.2 V379.1 M457.4,405.8 V392.5 M459.1,425.5 V366.9 M461.0,412.0 V382.7 M463.8,404.6 V385.9 M465.8,410.1 V387.8 M468.0,409.7 V389.0 M470.6,409.8 V388.9 M473.3,407.3 V394.6 M475.1,411.9 V392.0 M477.8,410.3 V397.4" stroke="#cdbfcf" stroke-width="1.4" stroke-opacity="0.55"/>
<path d="M49.50,416.80 L51.55,417.37 L53.60,417.94 L55.65,418.51 L57.70,419.08 L59.75,419.65 L61.80,420.22 L63.85,420.79 L65.90,421.36 L67.95,421.93 L70.00,422.50 L72.00,423.09 L74.00,423.68 L76.00,424.27 L78.00,424.86 L80.00,425.45 L82.00,426.04 L84.00,426.63 L86.00,427.22 L88.00,427.81 L90.00,428.40 L92.50,429.60 L95.00,430.80 L98.70,431.40 L101.80,432.00 L102.85,429.55 L103.90,427.10 L104.40,429.85 L104.90,432.60 L107.40,433.50 L109.20,431.80 L110.80,435.10 L112.30,433.90 L114.20,434.50 L114.47,432.12 L114.75,429.75 L115.03,427.38 L115.30,425.00 L115.63,423.00 L115.97,421.00 L116.30,419.00 L116.53,421.25 L116.75,423.50 L116.97,425.75 L117.20,428.00 L117.43,430.57 L117.67,433.13 L117.90,435.70 L119.10,437.00 L120.35,435.15 L121.60,433.30 L122.40,430.50 L123.20,427.70 L123.58,430.02 L123.95,432.35 L124.33,434.68 L124.70,437.00 L126.60,435.70 L126.92,433.48 L127.24,431.26 L127.56,429.04 L127.88,426.82 L128.20,424.60 L129.40,425.80 L129.58,423.44 L129.76,421.08 L129.94,418.72 L130.12,416.36 L130.30,414.00 L130.57,411.77 L130.83,409.53 L131.10,407.30 L131.50,410.15 L131.90,413.00 L132.10,415.27 L132.30,417.55 L132.50,419.83 L132.70,422.10 L132.91,424.19 L133.12,426.28 L133.34,428.36 L133.55,430.45 L133.76,432.54 L133.97,434.62 L134.19,436.71 L134.40,438.80 L134.82,436.70 L135.24,434.60 L135.66,432.50 L136.08,430.40 L136.50,428.30 L136.98,426.12 L137.46,423.94 L137.94,421.76 L138.42,419.58 L138.90,417.40 L140.20,418.40 L140.56,420.64 L140.92,422.88 L141.28,425.12 L141.64,427.36 L142.00,429.60 L142.40,431.58 L142.80,433.55 L143.20,435.52 L143.60,437.50 L143.76,435.44 L143.93,433.38 L144.09,431.31 L144.25,429.25 L144.41,427.19 L144.57,425.12 L144.74,423.06 L144.90,421.00 L146.30,419.40 L146.48,417.20 L146.67,415.00 L146.85,412.80 L147.03,410.60 L147.22,408.40 L147.40,406.20 L148.20,409.50 L148.42,407.20 L148.64,404.90 L148.86,402.60 L149.08,400.30 L149.30,398.00 L149.75,395.10 L150.20,392.20 L150.70,395.10 L151.20,398.00 L151.43,400.20 L151.67,402.40 L151.90,404.60 L152.22,407.05 L152.55,409.50 L152.88,411.95 L153.20,414.40 L153.38,416.51 L153.56,418.62 L153.73,420.73 L153.91,422.84 L154.09,424.96 L154.27,427.07 L154.44,429.18 L154.62,431.29 L154.80,433.40 L155.14,431.26 L155.48,429.12 L155.82,426.98 L156.16,424.84 L156.50,422.70 L156.70,420.64 L156.90,418.57 L157.10,416.51 L157.30,414.45 L157.50,412.39 L157.70,410.32 L157.90,408.26 L158.10,406.20 L158.77,403.73 L159.43,401.27 L160.10,398.80 L161.20,401.25 L162.30,403.70 L163.10,405.63 L163.90,407.57 L164.70,409.50 L165.01,411.74 L165.33,413.99 L165.64,416.23 L165.96,418.47 L166.27,420.71 L166.59,422.96 L166.90,425.20 L167.28,423.04 L167.66,420.88 L168.04,418.72 L168.42,416.56 L168.80,414.40 L169.23,411.95 L169.65,409.50 L170.07,407.05 L170.50,404.60 L170.68,402.49 L170.86,400.38 L171.03,398.27 L171.21,396.16 L171.39,394.04 L171.57,391.93 L171.74,389.82 L171.92,387.71 L172.10,385.60 L172.93,383.67 L173.77,381.73 L174.60,379.80 L175.22,381.88 L175.85,383.95 L176.47,386.03 L177.10,388.10 L177.38,390.11 L177.66,392.12 L177.93,394.13 L178.21,396.14 L178.49,398.16 L178.77,400.17 L179.04,402.18 L179.32,404.19 L179.60,406.20 L180.08,408.18 L180.56,410.16 L181.04,412.14 L181.52,414.12 L182.00,416.10 L183.70,417.70 L183.91,415.64 L184.12,413.58 L184.32,411.52 L184.53,409.47 L184.74,407.41 L184.95,405.35 L185.16,403.29 L185.37,401.23 L185.57,399.18 L185.78,397.12 L185.99,395.06 L186.20,393.00 L186.52,391.02 L186.84,389.04 L187.16,387.06 L187.48,385.08 L187.80,383.10 L189.30,381.05 L190.80,379.00 L192.20,381.05 L193.60,383.10 L194.00,385.30 L194.40,387.50 L194.80,389.70 L195.20,391.90 L195.60,394.10 L196.00,396.30 L196.55,398.37 L197.10,400.43 L197.65,402.50 L198.20,404.57 L198.75,406.63 L199.30,408.70 L200.17,410.73 L201.03,412.77 L201.90,414.80 L202.12,417.00 L202.33,419.20 L202.55,421.40 L202.77,423.60 L202.98,425.80 L203.20,428.00 L203.37,430.15 L203.53,432.30 L203.70,434.45 L203.87,436.60 L204.03,438.75 L204.20,440.90 L207.00,439.50 L210.00,437.50 L212.10,436.40 L213.05,434.20 L214.00,432.00 L216.70,429.50 L218.50,431.00 L221.20,428.40 L223.00,430.00 L224.50,427.00 L226.90,428.40 L228.00,426.10 L228.20,423.88 L228.40,421.66 L228.60,419.44 L228.80,417.22 L229.00,415.00 L229.13,412.94 L229.26,410.88 L229.39,408.82 L229.52,406.76 L229.65,404.70 L229.78,402.64 L229.91,400.58 L230.04,398.52 L230.17,396.46 L230.30,394.40 L230.64,392.32 L230.98,390.24 L231.32,388.16 L231.66,386.08 L232.00,384.00 L232.85,381.25 L233.70,378.50 L234.47,376.33 L235.23,374.17 L236.00,372.00 L237.27,370.27 L238.53,368.53 L239.80,366.80 L242.00,368.00 L243.00,370.00 L244.00,370.00 L244.00,370.26 L245.00,370.26 L245.00,374.99 L246.00,374.99 L246.00,376.70 L247.00,376.70 L247.00,377.89 L247.67,377.89 L247.67,378.52 L248.33,378.52 L248.33,383.52 L249.00,383.52 L249.00,385.60 L249.50,385.60 L249.50,386.06 L250.00,386.06 L250.00,388.03 L250.50,388.03 L250.50,388.63 L251.00,388.63 L251.00,389.42 L251.50,389.42 L251.50,393.33 L252.00,393.33 L252.00,396.44 L252.50,396.44 L252.50,395.76 L253.00,395.76 L253.00,401.53 L254.00,401.53 L254.00,400.61 L255.00,400.61 L255.00,402.61 L257.30,402.61 L257.30,404.32 L258.40,404.32 L258.40,406.94 L259.50,406.94 L259.50,403.24 L259.88,403.24 L259.88,401.70 L260.25,401.70 L260.25,398.10 L260.62,398.10 L260.62,392.83 L261.00,392.83 L261.00,392.11 L261.30,392.11 L261.30,390.99 L261.60,390.99 L261.60,387.00 L261.90,387.00 L261.90,389.35 L262.20,389.35 L262.20,384.32 L262.50,384.32 L262.50,381.21 L263.07,381.21 L263.07,382.55 L263.65,382.55 L263.65,376.85 L264.23,376.85 L264.23,378.93 L264.80,378.93 L264.80,374.36 L266.40,374.36 L266.40,372.57 L268.00,372.57 L268.00,369.18 L270.00,369.18 L270.00,368.92 L272.00,368.92 L272.00,366.37 L274.50,366.37 L274.50,366.59 L277.00,366.59 L277.00,371.90 L278.50,371.90 L278.50,370.62 L280.00,370.62 L280.00,375.46 L281.00,375.46 L281.00,374.48 L282.00,374.48 L282.00,380.44 L283.00,380.44 L283.00,382.05 L284.50,382.05 L284.50,383.82 L286.00,383.82 L286.00,386.37 L287.75,386.37 L287.75,387.62 L289.50,387.62 L289.50,390.59 L291.00,390.59 L291.00,389.24 L292.50,389.24 L292.50,392.88 L293.75,392.88 L293.75,396.70 L295.00,396.70 L295.00,395.45 L296.50,395.45 L296.50,401.70 L298.00,401.70 L298.00,404.02 L299.25,404.02 L299.25,403.53 L300.50,403.53 L300.50,405.30 L301.80,405.30 L301.80,407.35 L303.10,407.35 L303.10,408.61 L306.00,408.61 L306.00,409.57 L308.00,409.57 L308.00,403.41 L309.50,403.41 L309.50,399.54 L311.00,399.54 L311.00,397.88 L312.65,397.88 L312.65,399.53 L314.30,399.53 L314.30,399.36 L317.00,399.36 L317.00,394.48 L320.00,394.48 L320.00,391.96 L323.00,391.96 L323.00,390.26 L324.80,390.26 L324.80,389.74 L326.60,389.74 L326.60,385.45 L328.30,385.45 L328.30,386.27 L330.00,386.27 L330.00,384.79 L331.73,384.79 L331.73,383.84 L333.47,383.84 L333.47,380.24 L335.20,380.24 L335.20,378.88 L337.10,378.88 L337.10,379.01 L339.00,379.01 L339.00,381.22 L341.00,381.22 L341.00,377.05 L343.00,377.05 L343.00,377.21 L345.00,377.21 L345.00,373.84 L347.00,373.84 L347.00,370.94 L348.90,370.94 L348.90,369.74 L350.80,369.74 L350.80,372.63 L352.90,372.63 L352.90,372.94 L355.00,372.94 L355.00,371.35 L356.75,371.35 L356.75,374.95 L358.50,374.95 L358.50,376.91 L359.67,376.91 L359.67,380.07 L360.83,380.07 L360.83,382.74 L362.00,382.74 L362.00,381.44 L362.83,381.44 L362.83,386.76 L363.67,386.76 L363.67,388.43 L364.50,388.43 L364.50,388.04 L365.33,388.04 L365.33,391.62 L366.17,391.62 L366.17,391.11 L367.00,391.11 L367.00,392.26 L368.12,392.26 L368.12,393.49 L369.25,393.49 L369.25,399.25 L370.38,399.25 L370.38,396.98 L371.50,396.98 L371.50,398.42 L373.00,398.42 L373.00,404.89 L374.50,404.89 L374.50,406.77 L376.00,406.77 L376.00,407.10 L377.67,407.10 L377.67,410.48 L379.33,410.48 L379.33,407.06 L381.00,407.06 L381.00,409.55 L383.00,409.55 L383.00,411.94 L385.00,411.94 L385.00,414.92 L387.50,414.92 L387.50,414.23 L390.00,414.23 L390.00,414.43 L392.50,414.43 L392.50,416.28 L395.00,416.28 L395.00,419.89 L397.50,419.89 L397.50,419.14 L400.00,419.14 L400.00,416.47 L401.25,416.47 L401.25,412.37 L402.50,412.37 L402.50,408.52 L402.83,408.52 L402.83,410.74 L403.17,410.74 L403.17,406.15 L403.50,406.15 L403.50,405.37 L403.83,405.37 L403.83,399.18 L404.17,399.18 L404.17,398.28 L404.50,398.28 L404.50,400.02 L406.00,400.02 L406.00,402.77 L406.50,402.77 L406.50,405.61 L407.00,405.61 L407.00,406.27 L407.50,406.27 L407.50,407.56 L408.25,407.56 L408.25,411.24 L409.00,411.24 L409.00,415.59 L410.50,415.59 L410.50,409.85 L411.25,409.85 L411.25,409.21 L412.00,409.21 L412.00,405.66 L412.75,405.66 L412.75,411.35 L413.50,411.35 L413.50,409.57 L414.75,409.57 L414.75,416.11 L416.00,416.11 L416.00,420.21 L418.00,420.21 L418.00,415.15 L420.00,415.15 L420.00,419.06 L422.50,419.06 L422.50,419.61 L425.00,419.61 L425.00,421.10 L427.50,421.10 L427.50,419.50 L430.00,419.50 L430.00,417.55 L433.00,417.55 L433.00,417.44 L436.00,417.44 L436.00,419.54 L437.75,419.54 L437.75,417.33 L439.50,417.33 L439.50,410.81 L440.20,410.81 L440.20,408.08 L440.90,408.08 L440.90,405.57 L441.60,405.57 L441.60,402.66 L442.13,402.66 L442.13,407.68 L442.67,407.68 L442.67,408.35 L443.20,408.35 L443.20,415.20 L444.10,415.20 L444.10,416.18 L445.00,416.18 L445.00,415.27 L447.50,415.27 L447.50,418.23 L450.00,418.23 L450.00,417.45 L452.50,417.45 L452.50,417.71 L455.00,417.71 L455.00,415.32 L457.50,415.32 L457.50,414.90 L460.00,414.90 L460.00,414.91 L461.25,414.91 L461.25,414.17 L462.50,414.17 L462.50,414.26 L463.25,414.26 L463.25,411.30 L464.00,411.30 L464.00,406.29 L464.75,406.29 L464.75,412.51 L465.50,412.51 L465.50,415.74 L468.00,415.74 L468.00,417.14 L470.00,417.14 L470.00,415.24 L472.00,415.24 L472.00,409.06 L475.00,409.06 L475.00,414.28 L478.50,414.28 L478.50,415.00" stroke="#138080" stroke-width="2.1"/>
<path d="M49.50,357.50 L51.25,358.50 L53.00,359.50 L55.50,360.35 L58.00,361.20 L60.33,361.73 L62.67,362.27 L65.00,362.80 L67.00,363.16 L69.00,363.52 L71.00,363.88 L73.00,364.24 L75.00,364.60 L77.14,364.97 L79.29,365.34 L81.43,365.71 L83.57,366.09 L85.71,366.46 L87.86,366.83 L90.00,367.20 L92.00,367.44 L94.00,367.68 L96.00,367.92 L98.00,368.16 L100.00,368.40 L102.00,368.64 L104.00,368.88 L106.00,369.12 L108.00,369.36 L110.00,369.60 L112.11,369.78 L114.22,369.95 L116.33,370.12 L118.43,370.30 L120.54,370.48 L122.65,370.65 L124.76,370.82 L126.87,371.00 L128.98,371.18 L131.08,371.35 L133.19,371.52 L135.30,371.70 L137.65,372.25 L140.00,372.80 L142.00,373.20 L144.00,373.60 L146.00,374.00 L148.00,374.40 L150.00,374.80 L152.00,375.30 L154.00,375.80 L156.00,376.30 L158.00,376.80 L160.00,377.30 L162.00,377.80 L164.00,378.30 L166.00,378.80 L168.25,379.30 L170.50,379.80 L172.50,377.80 L174.60,376.20 L176.50,378.50 L178.70,381.50 L180.63,382.33 L182.57,383.17 L184.50,384.00 L185.50,382.25 L186.50,380.50 L188.50,377.50 L191.10,376.50 L192.75,378.15 L194.40,379.80 L196.05,382.10 L197.70,384.40 L199.30,382.00 L200.40,379.50 L201.50,383.00 L203.62,384.00 L205.75,385.00 L207.88,386.00 L210.00,387.00 L212.00,387.96 L214.00,388.92 L216.00,389.88 L218.00,390.84 L220.00,391.80 L222.00,392.73 L224.00,393.65 L226.00,394.57 L228.00,395.50 L229.00,393.25 L230.00,391.00 L230.50,388.67 L231.00,386.33" stroke="#ffa300" stroke-width="2.2"/>
<path d="M229.00,393.25 L230.00,391.00 L230.50,388.67 L231.00,386.33 L231.50,384.00 L232.25,381.50 L233.00,379.00 L233.67,377.00 L234.33,375.00 L235.00,373.00 L236.25,371.00 L237.50,369.00 L240.50,367.20 L241.50,369.10 L242.50,371.00 L243.33,371.52 L244.17,371.52 L244.17,375.90 L245.00,375.90 L245.00,375.90 L245.83,375.90 L245.83,379.89 L246.67,379.89 L246.67,380.49 L247.50,380.49 L247.50,384.17 L248.30,384.17 L248.30,384.83 L249.10,384.83 L249.10,385.88 L249.90,385.88 L249.90,389.02 L250.95,389.02 L250.95,390.55 L252.00,390.55 L252.00,394.36 L254.90,394.36 L254.90,394.20 L257.50,394.20 L257.50,393.01 L258.65,393.01 L258.65,391.37 L259.80,391.37 L259.80,390.92 L260.37,390.92 L260.37,385.90 L260.93,385.90 L260.93,385.48 L261.50,385.48 L261.50,383.03 L262.17,383.03 L262.17,381.80 L262.83,381.80 L262.83,380.59 L263.50,380.59 L263.50,376.35 L264.25,376.35 L264.25,375.68 L265.00,375.68 L265.00,373.09 L266.10,373.09 L266.10,371.51 L267.20,371.51 L267.20,368.12 L268.60,368.12 L268.60,369.12 L270.00,369.12 L270.00,368.12 L272.20,368.12 L272.20,364.21 L274.50,364.21 L274.50,365.88 L277.10,365.88 L277.10,370.78 L278.55,370.78 L278.55,369.72 L280.00,369.72 L280.00,371.56 L281.65,371.56 L281.65,373.55 L283.30,373.55 L283.30,378.07 L284.90,378.07 L284.90,379.88 L286.50,379.88 L286.50,380.82 L288.00,380.82 L288.00,383.16 L289.50,383.16 L289.50,382.87 L290.75,382.87 L290.75,387.24 L292.00,387.24 L292.00,388.80 L293.25,388.80 L293.25,391.76 L294.50,391.76 L294.50,394.02 L296.25,394.02 L296.25,395.62 L298.00,395.62 L298.00,396.57 L300.55,396.57 L300.55,396.87 L303.10,396.87 L303.10,399.08 L306.00,399.08 L306.00,397.64 L309.30,397.64 L309.30,397.49 L311.15,397.49 L311.15,395.98 L313.00,395.98 L313.00,393.76 L314.85,393.76 L314.85,391.05 L316.70,391.05 L316.70,388.50 L318.35,388.50 L318.35,387.31 L320.00,387.31 L320.00,385.96 L322.10,385.96 L322.10,384.45 L324.20,384.45 L324.20,383.57 L326.10,383.57 L326.10,379.09 L328.00,379.09 L328.00,378.93 L329.80,378.93 L329.80,377.97 L331.60,377.97 L331.60,377.74 L332.30,377.74 L332.30,376.33 L333.00,376.33 L333.00,373.95 L333.80,373.95 L333.80,371.48 L334.60,371.48 L334.60,369.98 L336.50,369.98 L336.50,371.57 L340.00,371.57 L340.00,374.02 L341.50,374.02 L341.50,372.08 L343.00,372.08 L343.00,370.62 L345.60,370.62 L345.60,366.73 L348.00,366.73 L348.00,366.42 L350.80,366.42 L350.80,363.31 L353.40,363.31 L353.40,365.49 L356.00,365.49 L356.00,367.60 L358.00,367.60 L358.00,369.83 L360.00,369.83 L360.00,371.66 L361.00,371.66 L361.00,369.82 L362.00,369.82 L362.00,372.77 L363.00,372.77 L363.00,374.51 L364.00,374.51 L364.00,376.57 L364.77,376.57 L364.77,377.49 L365.55,377.49 L365.55,380.96 L366.33,380.96 L366.33,380.98 L367.10,380.98 L367.10,383.73 L368.12,383.73 L368.12,388.48 L369.15,388.48 L369.15,389.95 L370.18,389.95 L370.18,391.10 L371.20,391.10 L371.20,391.97 L373.30,391.97 L373.30,396.98 L375.40,396.98 L375.40,397.70 L377.70,397.70 L377.70,396.55 L380.00,396.55 L380.00,397.86 L382.25,397.86 L382.25,399.20 L384.50,399.20 L384.50,399.51 L387.25,399.51 L387.25,397.46 L390.00,397.46 L390.00,399.76 L392.45,399.76 L392.45,396.80 L394.90,396.80 L394.90,396.04 L396.95,396.04 L396.95,397.85 L399.00,397.85 L399.00,394.64 L402.00,394.64 L402.00,395.71 L402.32,395.71 L402.32,391.83 L402.65,391.83 L402.65,391.38 L402.98,391.38 L402.98,388.13 L403.30,388.13 L403.30,386.53 L403.70,386.53 L403.70,386.22 L404.10,386.22 L404.10,381.87 L404.50,381.87 L404.50,379.25 L404.87,379.25 L404.87,382.12 L405.23,382.12 L405.23,382.98 L405.60,382.98 L405.60,384.73 L406.60,384.73 L406.60,384.05 L407.20,384.05 L407.20,386.36 L407.80,386.36 L407.80,388.78 L409.50,388.78 L409.50,394.30 L411.00,394.30 L411.00,389.68 L413.00,389.68 L413.00,393.96 L415.00,393.96 L415.00,395.70 L417.50,395.70 L417.50,395.70 L420.00,395.70 L420.00,393.92 L422.00,393.92 L422.00,395.94 L424.00,395.94 L424.00,394.28 L426.00,394.28 L426.00,396.64 L428.00,396.64 L428.00,397.14 L430.00,397.14 L430.00,395.48 L432.00,395.48 L432.00,394.70 L434.00,394.70 L434.00,396.92 L436.00,396.92 L436.00,395.29 L438.00,395.29 L438.00,396.25 L440.00,396.25 L440.00,394.32 L441.60,394.32 L441.60,394.24 L442.55,394.24 L442.55,394.59 L443.50,394.59 L443.50,396.07 L445.67,396.07 L445.67,399.14 L447.83,399.14 L447.83,399.76 L450.00,399.76 L450.00,399.12 L452.33,399.12 L452.33,397.57 L454.67,397.57 L454.67,398.45 L457.00,398.45 L457.00,399.62 L459.00,399.62 L459.00,399.70 L461.00,399.70 L461.00,397.93 L462.25,397.93 L462.25,398.58 L463.50,398.58 L463.50,397.14 L464.75,397.14 L464.75,399.81 L466.00,399.81 L466.00,402.00 L468.00,402.00 L468.00,398.61 L470.00,398.61 L470.00,400.82 L472.00,400.82 L472.00,398.86 L475.00,398.86 L475.00,404.56 L476.75,404.56 L476.75,404.97 L478.50,404.97 L478.50,405.00" stroke="#ffa300" stroke-width="2.9"/>
</g>
<line x1="174.7" y1="333.5" x2="174.7" y2="448.0" stroke="#9c9c9c" stroke-width="1.45" stroke-dasharray="5,2.9" stroke-dashoffset="2.8"/>
<text transform="translate(176.80,330.2) rotate(-90)" font-size="12.6">CH<tspan font-size="9" dy="2.8" dx="0.6">4</tspan></text>
<line x1="191.7" y1="333.5" x2="191.7" y2="448.0" stroke="#9c9c9c" stroke-width="1.45" stroke-dasharray="5,2.9" stroke-dashoffset="2.8"/>
<text transform="translate(193.80,330.2) rotate(-90)" font-size="12.6">CH<tspan font-size="9" dy="2.8" dx="0.6">4</tspan></text>
<line x1="240.0" y1="333.5" x2="240.0" y2="448.0" stroke="#9c9c9c" stroke-width="1.45" stroke-dasharray="5,2.9" stroke-dashoffset="2.8"/>
<text transform="translate(242.10,330.2) rotate(-90)" font-size="12.6">CH<tspan font-size="9" dy="2.8" dx="0.6">4</tspan></text>
<line x1="277.4" y1="333.5" x2="277.4" y2="448.0" stroke="#9c9c9c" stroke-width="1.45" stroke-dasharray="5,2.9" stroke-dashoffset="2.8"/>
<text transform="translate(279.50,330.2) rotate(-90)" font-size="12.6">CH<tspan font-size="9" dy="2.8" dx="0.6">4</tspan></text>
<line x1="331.5" y1="333.5" x2="331.5" y2="448.0" stroke="#9c9c9c" stroke-width="1.45" stroke-dasharray="5,2.9" stroke-dashoffset="2.8"/>
<text transform="translate(333.60,330.2) rotate(-90)" font-size="12.6">Haze</text>
<line x1="350.6" y1="333.5" x2="350.6" y2="448.0" stroke="#9c9c9c" stroke-width="1.45" stroke-dasharray="5,2.9" stroke-dashoffset="2.8"/>
<text transform="translate(352.70,330.2) rotate(-90)" font-size="12.6">CH<tspan font-size="9" dy="2.8" dx="0.6">4</tspan></text>
<line x1="386.4" y1="333.5" x2="386.4" y2="448.0" stroke="#9c9c9c" stroke-width="1.45" stroke-dasharray="5,2.9" stroke-dashoffset="2.8"/>
<text transform="translate(388.50,330.2) rotate(-90)" font-size="12.6">CH<tspan font-size="9" dy="2.8" dx="0.6">4</tspan></text>
<line x1="405.7" y1="333.5" x2="405.7" y2="448.0" stroke="#9c9c9c" stroke-width="1.45" stroke-dasharray="5,2.9" stroke-dashoffset="2.8"/>
<text transform="translate(407.80,330.2) rotate(-90)" font-size="12.6">C<tspan font-size="9" dy="2.8" dx="0.6">2</tspan><tspan dy="-2.8" dx="1.0">H</tspan><tspan font-size="9" dy="2.8" dx="0.6">2</tspan></text>
<rect x="49.0" y="333.5" width="428.5" height="114.5" fill="none" stroke="#262626" stroke-width="1.1"/>
<line x1="49.0" y1="373.50" x2="45.2" y2="373.50" stroke="#262626" stroke-width="1.1"/>
<text x="39.70" y="378.10" font-size="12.0" text-anchor="end">0.7</text>
<line x1="49.0" y1="429.80" x2="45.2" y2="429.80" stroke="#262626" stroke-width="1.1"/>
<text x="39.70" y="434.40" font-size="12.0" text-anchor="end">0.6</text>
<line x1="161.03" y1="448.0" x2="161.03" y2="451.8" stroke="#262626" stroke-width="1.1"/>
<text x="160.73" y="464.9" font-size="12.5" text-anchor="middle">1</text>
<line x1="375.28" y1="448.0" x2="375.28" y2="451.8" stroke="#262626" stroke-width="1.1"/>
<text x="374.98" y="464.9" font-size="12.5" text-anchor="middle">10</text>
<line x1="75.77" y1="448.0" x2="75.77" y2="450.2" stroke="#262626" stroke-width="0.9"/>
<line x1="96.53" y1="448.0" x2="96.53" y2="450.2" stroke="#262626" stroke-width="0.9"/>
<line x1="113.50" y1="448.0" x2="113.50" y2="450.2" stroke="#262626" stroke-width="0.9"/>
<line x1="127.84" y1="448.0" x2="127.84" y2="450.2" stroke="#262626" stroke-width="0.9"/>
<line x1="140.26" y1="448.0" x2="140.26" y2="450.2" stroke="#262626" stroke-width="0.9"/>
<line x1="151.22" y1="448.0" x2="151.22" y2="450.2" stroke="#262626" stroke-width="0.9"/>
<line x1="225.52" y1="448.0" x2="225.52" y2="450.2" stroke="#262626" stroke-width="0.9"/>
<line x1="263.25" y1="448.0" x2="263.25" y2="450.2" stroke="#262626" stroke-width="0.9"/>
<line x1="290.02" y1="448.0" x2="290.02" y2="450.2" stroke="#262626" stroke-width="0.9"/>
<line x1="310.78" y1="448.0" x2="310.78" y2="450.2" stroke="#262626" stroke-width="0.9"/>
<line x1="327.75" y1="448.0" x2="327.75" y2="450.2" stroke="#262626" stroke-width="0.9"/>
<line x1="342.09" y1="448.0" x2="342.09" y2="450.2" stroke="#262626" stroke-width="0.9"/>
<line x1="354.51" y1="448.0" x2="354.51" y2="450.2" stroke="#262626" stroke-width="0.9"/>
<line x1="365.47" y1="448.0" x2="365.47" y2="450.2" stroke="#262626" stroke-width="0.9"/>
<line x1="439.77" y1="448.0" x2="439.77" y2="450.2" stroke="#262626" stroke-width="0.9"/>
<text x="263.2" y="480.6" font-size="12.6" text-anchor="middle" textLength="90.3">Wavelength (<tspan font-style="italic">μ</tspan>m)</text>
<text transform="translate(17.8,391.3) rotate(-90)" font-size="12.5" text-anchor="middle" textLength="94.6">Transit Depth (%)</text>
<rect x="483.5" y="370.5" width="85.5" height="39" rx="2.5" fill="#fff" fill-opacity="0.8" stroke="#d6d6d6" stroke-width="1"/>
<line x1="488" y1="380" x2="512" y2="380" stroke="#138080" stroke-width="2.1" stroke-linecap="square"/>
<line x1="488" y1="397.4" x2="512" y2="397.4" stroke="#ffa300" stroke-width="2.3" stroke-linecap="square"/>
<text x="521" y="384.4" font-size="12.5" textLength="44.4">No haze</text>
<text x="521" y="401.8" font-size="12.5" textLength="28.6">Haze</text>
</svg></body></html>
